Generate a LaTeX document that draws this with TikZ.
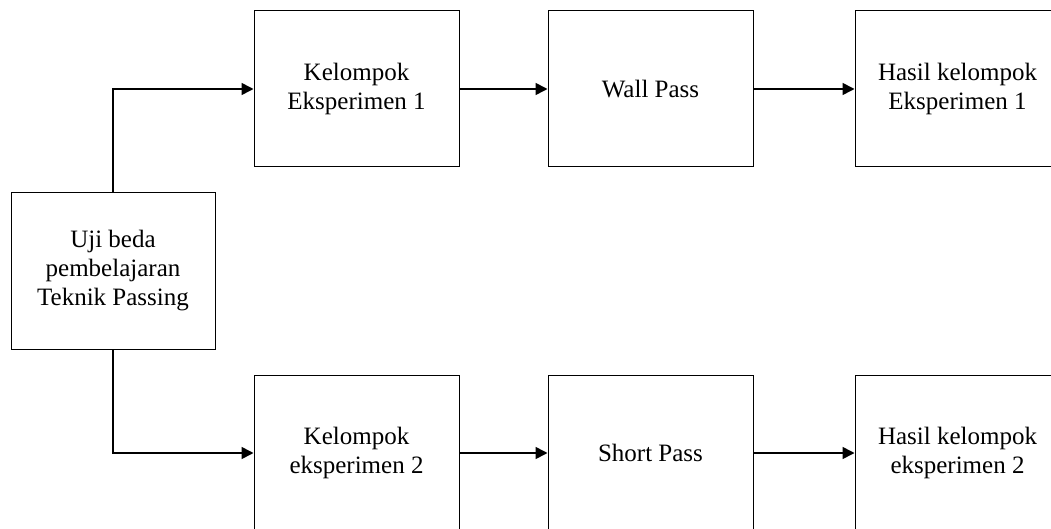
\documentclass[tikz,border=0pt]{standalone}
\usepackage{fontspec}
\setmainfont{Liberation Serif}
\usetikzlibrary{arrows.meta}
\begin{document}
\begin{tikzpicture}[x=1pt,y=-1pt,
  box/.style={draw,line width=1pt,minimum width=205pt,minimum height=156pt,
    align=center,inner sep=0pt,font=\fontsize{25}{29}\selectfont},
  conn/.style={line width=1.6pt,-{Triangle[length=12pt,width=12pt]}}]
\useasboundingbox (0,0) rectangle (1051,529);
\clip (0,0) rectangle (1051,529);
\node[box,minimum width=204pt] (uji) at (113,271) {Uji beda\\pembelajaran\\Teknik Passing};
\node[box] (k1) at (356.5,89) {Kelompok\\Eksperimen 1};
\node[box] (wp) at (650.5,89) {Wall Pass};
\node[box] (h1) at (957.5,89) {Hasil kelompok\\Eksperimen 1};
\node[box] (k2) at (356.5,453) {Kelompok\\eksperimen 2};
\node[box] (sp) at (650.5,453) {Short Pass};
\node[box] (h2) at (957.5,453) {Hasil kelompok\\eksperimen 2};
\draw[conn] (uji.north) |- (k1.west);
\draw[conn] (uji.south) |- (k2.west);
\draw[conn] (k1) -- (wp);
\draw[conn] (wp) -- (h1);
\draw[conn] (k2) -- (sp);
\draw[conn] (sp) -- (h2);
\end{tikzpicture}
\end{document}
